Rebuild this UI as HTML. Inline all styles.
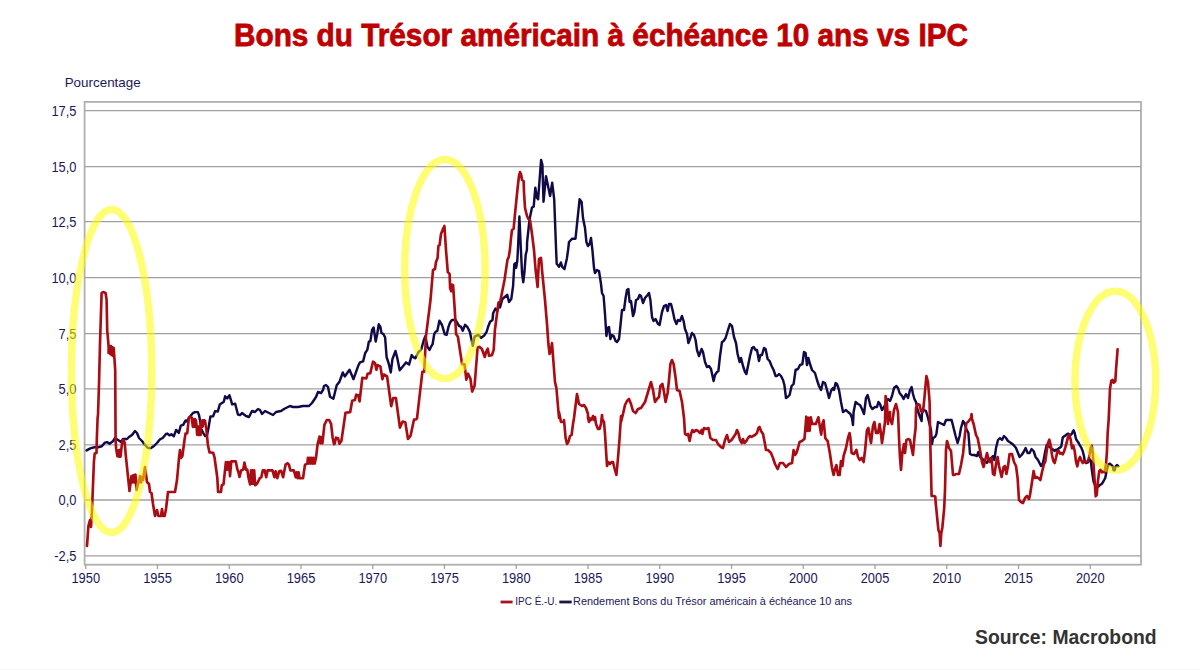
<!DOCTYPE html>
<html><head><meta charset="utf-8"><style>
html,body{margin:0;padding:0;background:#fff;}
body{width:1200px;height:670px;overflow:hidden;position:relative;font-family:"Liberation Sans",sans-serif;}
svg{position:absolute;left:0;top:0;}
</style></head><body>
<svg width="1200" height="670" viewBox="0 0 1200 670">
<rect x="0" y="0" width="1200" height="670" fill="#fff"/>
<text x="601" y="45.8" text-anchor="middle" font-family="Liberation Sans" font-weight="bold" font-size="31.5" fill="#c00000" stroke="#c00000" stroke-width="0.8" textLength="734" lengthAdjust="spacingAndGlyphs">Bons du Trésor américain à échéance 10 ans vs IPC</text>
<text x="64.7" y="87" font-size="13" fill="#1c1858" textLength="76" lengthAdjust="spacingAndGlyphs">Pourcentage</text>
<rect x="84.6" y="101.9" width="1056.4" height="462.8" fill="none" stroke="#b0b0b0" stroke-width="1.8"/>
<g stroke="#a0a0a0" stroke-width="1.3" fill="none"><line x1="84.5" x2="1141" y1="110.6" y2="110.6"/><line x1="84.5" x2="1141" y1="166.6" y2="166.6"/><line x1="84.5" x2="1141" y1="221.7" y2="221.7"/><line x1="84.5" x2="1141" y1="277.7" y2="277.7"/><line x1="84.5" x2="1141" y1="333.7" y2="333.7"/><line x1="84.5" x2="1141" y1="388.8" y2="388.8"/><line x1="84.5" x2="1141" y1="444.9" y2="444.9"/><line x1="84.5" x2="1141" y1="500.0" y2="500.0"/><line x1="84.5" x2="1141" y1="555.9" y2="555.9"/></g>
<g stroke="#a0a0a0" stroke-width="1.3"><line x1="85.75" x2="85.75" y1="564.5" y2="569"/><line x1="157.50" x2="157.50" y1="564.5" y2="569"/><line x1="229.25" x2="229.25" y1="564.5" y2="569"/><line x1="301.00" x2="301.00" y1="564.5" y2="569"/><line x1="372.75" x2="372.75" y1="564.5" y2="569"/><line x1="444.50" x2="444.50" y1="564.5" y2="569"/><line x1="516.25" x2="516.25" y1="564.5" y2="569"/><line x1="588.00" x2="588.00" y1="564.5" y2="569"/><line x1="659.75" x2="659.75" y1="564.5" y2="569"/><line x1="731.50" x2="731.50" y1="564.5" y2="569"/><line x1="803.25" x2="803.25" y1="564.5" y2="569"/><line x1="875.00" x2="875.00" y1="564.5" y2="569"/><line x1="946.75" x2="946.75" y1="564.5" y2="569"/><line x1="1018.50" x2="1018.50" y1="564.5" y2="569"/><line x1="1090.25" x2="1090.25" y1="564.5" y2="569"/></g>
<g font-size="14" fill="#1c1858"><text transform="translate(76.5,115.5) scale(0.92,1)" text-anchor="end">17,5</text><text transform="translate(76.5,171.5) scale(0.92,1)" text-anchor="end">15,0</text><text transform="translate(76.5,226.6) scale(0.92,1)" text-anchor="end">12,5</text><text transform="translate(76.5,282.6) scale(0.92,1)" text-anchor="end">10,0</text><text transform="translate(76.5,338.6) scale(0.92,1)" text-anchor="end">7,5</text><text transform="translate(76.5,393.7) scale(0.92,1)" text-anchor="end">5,0</text><text transform="translate(76.5,449.8) scale(0.92,1)" text-anchor="end">2,5</text><text transform="translate(76.5,504.9) scale(0.92,1)" text-anchor="end">0,0</text><text transform="translate(76.5,560.8) scale(0.92,1)" text-anchor="end">-2,5</text></g>
<g font-size="14" fill="#1c1858"><text transform="translate(85.75,582.8) scale(0.92,1)" text-anchor="middle">1950</text><text transform="translate(157.50,582.8) scale(0.92,1)" text-anchor="middle">1955</text><text transform="translate(229.25,582.8) scale(0.92,1)" text-anchor="middle">1960</text><text transform="translate(301.00,582.8) scale(0.92,1)" text-anchor="middle">1965</text><text transform="translate(372.75,582.8) scale(0.92,1)" text-anchor="middle">1970</text><text transform="translate(444.50,582.8) scale(0.92,1)" text-anchor="middle">1975</text><text transform="translate(516.25,582.8) scale(0.92,1)" text-anchor="middle">1980</text><text transform="translate(588.00,582.8) scale(0.92,1)" text-anchor="middle">1985</text><text transform="translate(659.75,582.8) scale(0.92,1)" text-anchor="middle">1990</text><text transform="translate(731.50,582.8) scale(0.92,1)" text-anchor="middle">1995</text><text transform="translate(803.25,582.8) scale(0.92,1)" text-anchor="middle">2000</text><text transform="translate(875.00,582.8) scale(0.92,1)" text-anchor="middle">2005</text><text transform="translate(946.75,582.8) scale(0.92,1)" text-anchor="middle">2010</text><text transform="translate(1018.50,582.8) scale(0.92,1)" text-anchor="middle">2015</text><text transform="translate(1090.25,582.8) scale(0.92,1)" text-anchor="middle">2020</text></g>
<g fill="none" stroke-width="2.6" stroke-linejoin="round" stroke-linecap="round">
<polyline stroke="#120a48" stroke-width="2.45" points="86.6,450.4 90.3,448.4 94.4,447.3 98.1,447.3 101.8,446.3 104.9,442.6 107.0,442.1 109.6,443.7 113.2,441.0 115.0,438.0 118.0,440.0 121.0,442.0 123.0,439.0 127.0,439.0 129.0,437.0 132.0,435.0 135.0,431.0 137.0,433.0 139.0,438.0 142.0,441.0 145.0,445.0 148.0,448.0 151.0,448.0 154.0,446.0 157.0,443.0 160.0,439.3 162.7,438.0 166.0,434.0 167.4,433.6 169.4,435.3 171.4,434.3 173.8,436.3 176.1,429.9 178.8,432.9 180.8,425.6 183.2,424.9 185.5,420.5 186.5,421.5 189.6,417.2 192.9,413.1 194.9,412.1 197.9,412.1 199.0,415.1 200.3,421.9 201.0,428.6 203.0,432.6 205.0,436.0 207.0,435.3 208.4,428.6 210.4,416.5 213.1,416.2 215.1,411.1 217.8,411.5 219.8,404.4 223.8,401.7 225.1,396.3 227.2,398.4 229.5,395.3 232.2,404.4 235.2,403.7 237.9,414.5 240.0,415.1 242.0,413.0 246.0,416.0 249.0,417.0 252.0,411.0 255.0,412.0 258.0,409.0 260.0,410.0 262.0,414.0 265.0,411.0 269.0,413.0 273.0,415.0 276.0,412.0 281.0,411.0 284.0,409.0 290.0,406.0 293.0,407.0 298.0,407.0 303.0,406.0 309.0,406.0 312.0,403.0 316.0,397.0 318.0,392.0 321.0,393.0 323.0,390.0 324.0,386.0 326.0,385.0 328.0,387.0 330.0,396.7 333.4,398.7 336.7,385.2 339.4,381.9 342.8,372.5 344.8,376.5 349.5,369.8 353.5,379.2 358.2,365.8 360.0,362.4 363.1,361.4 365.2,353.0 367.3,349.9 368.9,341.6 370.4,341.0 372.0,330.1 373.6,327.5 375.7,341.6 377.2,334.2 378.8,324.3 380.4,326.9 381.4,332.7 383.5,334.2 385.1,337.4 386.6,357.2 388.7,363.5 390.8,372.4 392.4,359.3 395.5,351.0 397.1,357.2 399.7,370.3 401.8,367.7 406.0,362.4 409.1,364.5 411.7,355.1 413.3,357.2 415.4,358.3 418.5,352.0 421.1,349.9 423.7,340.5 425.3,336.3 427.4,346.8 429.5,349.9 431.0,346.8 432.6,344.2 434.2,334.2 435.7,331.6 437.3,331.1 439.4,320.7 442.0,325.0 444.8,334.3 446.6,334.9 448.4,327.2 450.1,322.4 451.9,320.0 455.5,320.0 459.1,326.0 460.9,326.6 462.7,330.7 465.1,324.8 467.5,327.2 469.9,331.9 472.8,345.7 474.6,336.7 478.2,334.9 481.2,337.9 484.2,335.5 486.6,331.9 488.4,326.0 490.1,321.8 492.5,320.0 493.1,313.3 495.5,308.5 497.3,310.9 499.7,303.7 500.0,307.3 502.4,299.0 507.2,294.8 509.0,301.9 511.3,299.0 513.1,285.8 514.3,264.3 515.5,263.1 516.1,267.9 517.3,260.7 517.9,250.0 519.4,216.5 520.9,250.0 522.1,273.9 523.3,282.2 524.5,271.5 525.7,254.8 526.9,250.0 527.1,242.0 529.6,219.0 532.0,207.5 533.7,206.7 535.3,187.8 536.9,197.6 538.1,199.3 541.1,159.9 542.4,164.8 543.5,201.7 546.0,176.3 548.4,187.8 550.1,196.0 552.2,182.8 554.2,199.3 556.1,250.0 556.7,263.7 559.1,266.7 560.9,262.5 562.1,266.7 564.5,269.1 566.9,258.4 568.1,250.0 569.0,242.0 572.2,238.7 575.5,238.7 579.6,199.3 581.6,202.0 583.0,218.0 585.0,228.0 586.4,242.0 588.0,246.0 589.6,244.0 591.0,238.0 592.4,250.0 594.0,268.0 595.0,273.0 597.0,270.0 599.0,271.0 601.0,284.0 602.0,293.0 603.6,296.0 605.0,314.0 606.4,336.0 607.6,328.0 609.0,327.0 610.4,339.0 612.0,335.0 613.6,336.0 615.6,341.0 617.0,342.0 619.0,339.0 620.4,326.0 622.0,310.0 624.0,310.0 625.6,298.0 627.0,290.0 628.4,289.0 629.6,302.0 631.0,301.0 633.0,316.0 634.4,312.0 636.0,300.0 638.0,299.0 639.6,295.0 641.0,296.0 643.0,303.0 645.0,298.0 647.6,295.0 649.0,293.0 650.4,300.0 652.0,317.0 653.6,321.0 655.6,319.0 658.0,324.0 659.6,325.0 662.0,312.0 664.0,306.0 666.0,305.0 667.6,311.0 669.0,304.0 671.0,304.0 673.0,312.0 674.4,319.0 676.4,324.0 678.0,320.0 680.0,321.0 682.0,316.0 683.6,321.0 685.0,329.0 687.0,334.0 688.4,343.0 690.0,339.0 692.0,333.0 694.0,335.0 695.6,340.0 697.0,350.0 699.0,356.0 701.6,349.0 703.0,352.0 705.0,362.0 707.0,367.0 709.0,366.0 711.0,369.0 713.6,381.0 715.0,375.0 717.0,372.0 718.4,371.0 720.0,356.0 722.0,342.0 723.6,341.0 725.6,338.0 728.0,330.0 730.0,324.0 732.0,326.0 734.0,337.0 736.0,343.0 737.6,354.0 739.6,362.0 741.0,358.0 743.0,366.0 745.0,372.0 746.4,374.0 748.0,366.0 750.0,356.0 752.0,348.0 753.6,347.0 755.6,350.0 757.0,350.0 759.0,361.0 760.4,355.0 762.0,355.0 764.0,348.0 765.6,349.0 767.6,359.0 769.6,361.0 771.6,366.0 773.6,370.0 775.6,376.0 777.0,376.0 779.0,374.0 781.0,376.0 783.0,380.0 784.4,385.0 786.0,398.0 787.6,397.0 789.6,395.0 791.6,386.0 793.6,384.0 795.6,370.0 798.0,369.0 800.0,365.0 802.4,364.0 804.0,352.0 804.0,352.0 805.6,353.0 807.0,365.0 808.4,358.0 810.0,364.0 812.0,370.0 815.0,373.0 817.0,380.0 819.0,386.0 821.0,390.0 823.0,382.0 825.0,383.0 827.0,390.0 829.0,398.0 831.0,391.0 833.0,388.0 834.0,390.0 835.6,383.0 837.0,384.0 839.0,390.0 841.0,402.0 843.0,412.0 846.0,410.0 848.0,412.0 850.4,414.0 852.0,418.0 853.0,425.0 853.6,412.0 855.6,402.0 858.0,404.0 860.0,405.0 862.0,409.0 864.0,414.0 866.0,398.0 867.6,395.0 869.0,400.0 870.4,406.0 872.4,409.0 875.0,407.0 877.0,407.0 878.4,402.0 880.0,404.0 882.0,410.0 884.0,407.0 886.0,403.0 888.0,399.0 890.0,401.0 892.0,396.0 894.0,388.0 896.4,386.0 898.0,388.0 899.6,393.0 902.0,396.0 903.6,399.0 905.0,396.0 906.0,394.0 908.0,398.0 910.0,390.0 911.6,387.0 913.0,394.0 914.4,399.0 916.0,402.0 917.6,410.0 919.6,416.0 921.6,421.0 922.0,412.0 924.0,410.0 926.0,411.0 928.0,418.0 931.0,430.0 932.0,444.0 933.0,438.0 935.0,437.0 936.4,434.0 938.0,422.0 942.0,424.0 944.0,425.0 946.0,420.0 951.6,420.0 953.6,428.0 955.6,436.0 957.6,443.0 959.6,436.0 961.0,428.0 963.0,421.0 964.4,423.0 966.4,429.0 968.4,433.0 970.0,454.0 972.0,455.0 974.4,455.0 977.0,456.0 978.4,452.0 980.0,457.0 982.4,459.0 985.0,461.0 987.0,463.0 989.0,459.0 991.0,458.0 993.0,456.0 994.4,460.0 996.0,448.0 998.0,440.0 1000.0,438.0 1002.0,440.0 1004.0,436.0 1006.0,438.0 1008.0,441.0 1011.0,443.0 1013.6,445.0 1016.0,448.0 1018.0,453.0 1019.6,457.0 1021.6,455.0 1023.6,452.0 1025.6,448.0 1027.6,453.0 1029.6,453.0 1031.6,449.0 1033.6,451.0 1035.6,457.0 1038.0,460.0 1041.0,466.0 1043.0,463.0 1044.0,458.0 1045.3,451.0 1046.7,445.0 1048.0,445.7 1049.3,447.0 1050.7,447.7 1052.0,449.0 1053.3,449.7 1054.7,451.0 1056.0,449.7 1057.3,449.7 1058.7,448.3 1060.0,447.7 1061.3,446.3 1062.7,437.7 1064.0,436.3 1065.3,435.7 1066.7,434.3 1068.0,433.7 1069.3,434.3 1070.7,435.0 1072.0,433.7 1072.7,431.7 1073.6,430.3 1074.7,433.0 1076.0,439.0 1077.3,441.0 1078.7,443.0 1080.0,445.7 1081.3,447.7 1082.7,451.0 1084.0,456.3 1084.7,461.0 1086.0,463.0 1088.0,462.3 1089.3,459.0 1090.7,460.3 1092.0,471.0 1093.6,481.7 1095.3,485.7 1097.3,487.0 1098.7,486.3 1100.0,485.0 1102.0,483.7 1104.0,480.3 1105.3,477.7 1106.4,472.3 1107.3,468.3 1108.7,464.3 1110.0,463.7 1111.3,465.0 1112.7,466.3 1113.6,470.3 1114.7,470.3 1115.7,466.3 1117.1,465.0 1118.4,466.3"/>
<polyline stroke="#aa0c14" stroke-width="2.65" points="87.0,546.0 88.4,526.0 90.0,520.0 91.0,527.0 92.0,510.0 93.4,475.0 93.9,461.9 94.7,453.6 96.5,453.0 96.8,440.0 97.6,418.0 98.0,415.0 99.0,384.0 100.0,344.0 101.6,293.0 103.0,292.0 105.6,293.0 106.6,300.0 107.2,330.0 108.6,346.0 108.6,353.0 109.5,346.0 110.2,354.0 110.8,346.0 111.5,355.0 112.2,347.0 112.9,356.0 113.7,348.0 115.2,370.0 115.6,440.0 116.1,448.4 117.4,456.2 118.5,450.4 119.0,456.7 120.0,449.9 120.6,456.7 121.3,449.4 122.1,443.1 122.9,440.0 123.7,440.0 124.7,443.1 125.8,455.7 129.5,491.0 131.5,476.0 132.5,482.5 133.5,475.0 134.5,482.5 135.5,474.5 136.5,490.0 140.0,476.0 141.0,482.5 142.0,477.0 143.0,480.0 145.0,467.0 147.0,482.0 149.0,484.0 150.0,492.0 151.5,493.0 153.0,504.0 155.0,516.0 157.0,510.0 158.4,516.0 161.0,516.0 162.0,509.0 163.0,516.0 164.6,516.0 166.0,509.0 168.0,492.0 175.0,492.0 177.0,480.0 179.0,458.0 180.0,450.0 181.0,458.0 182.4,456.0 184.5,440.0 185.5,433.6 187.2,433.3 188.9,417.8 189.9,416.8 191.6,417.2 192.6,424.6 192.9,426.9 193.4,419.8 193.8,426.6 194.3,419.2 194.7,426.6 195.3,419.2 195.9,420.5 196.6,425.9 197.1,434.6 197.9,426.6 198.4,435.0 199.0,426.6 199.6,435.0 200.2,426.6 200.6,435.0 201.0,421.2 201.6,426.6 202.2,420.5 202.7,426.6 203.3,420.2 204.0,420.2 205.0,420.9 206.3,428.6 207.9,445.0 209.5,452.4 213.2,452.8 214.5,457.3 217.3,477.8 218.1,491.8 221.0,491.8 221.8,485.2 223.5,484.4 225.9,462.2 226.8,469.6 227.6,462.2 228.4,469.6 229.2,462.2 230.0,476.2 231.3,461.4 235.8,461.4 237.4,469.6 238.4,472.1 239.5,477.0 241.1,470.4 243.2,469.6 244.4,462.6 246.0,469.6 247.3,469.6 248.5,477.8 250.1,484.4 251.0,470.4 251.8,483.6 252.6,470.4 253.4,483.6 254.2,470.4 255.1,485.2 256.9,484.0 259.8,478.2 261.3,477.2 262.8,470.4 264.7,470.4 266.2,477.2 267.6,470.4 272.5,470.4 274.4,477.2 275.6,471.4 277.3,478.2 279.2,471.4 281.2,470.9 283.1,477.2 285.6,464.6 287.5,463.2 288.9,464.6 290.4,470.4 293.8,470.4 295.7,477.2 296.7,472.4 297.7,478.2 298.6,472.4 299.6,478.2 303.0,478.2 305.0,464.6 307.4,463.6 307.9,457.8 308.8,463.6 309.8,457.8 310.8,463.6 311.7,457.8 312.7,463.6 313.7,457.8 314.7,463.6 316.1,456.9 317.6,444.2 319.5,436.5 320.5,443.3 321.0,437.0 322.4,443.3 324.4,424.8 326.8,420.0 329.2,420.0 331.1,423.9 332.6,437.5 334.0,444.2 334.7,443.7 336.0,437.7 338.1,438.3 339.4,443.7 341.4,441.0 345.5,412.8 350.2,412.1 352.2,400.7 354.9,400.0 356.2,394.7 358.2,395.3 359.6,401.4 362.3,377.8 366.3,378.5 367.6,373.8 370.3,373.1 373.0,361.7 375.0,363.1 376.4,369.8 377.7,365.1 380.4,366.4 382.4,379.2 383.8,374.5 387.1,376.5 391.2,406.1 393.2,398.0 395.9,398.0 399.9,427.6 402.6,421.5 405.3,422.2 408.0,439.0 410.6,435.6 414.0,419.5 416.0,419.5 417.0,418.3 422.4,371.7 424.2,371.7 426.0,335.8 430.5,300.0 433.0,270.0 435.0,269.0 436.0,262.0 437.6,258.0 438.4,246.0 439.6,245.0 441.0,234.0 443.0,229.0 444.4,226.0 446.0,250.0 447.8,272.1 449.6,273.9 450.1,288.2 451.3,291.2 451.9,284.6 453.1,285.2 454.9,312.1 456.1,334.3 457.9,336.7 462.1,364.2 464.5,364.2 466.3,379.7 468.1,373.7 470.4,378.5 472.2,391.6 474.6,385.7 477.6,347.5 479.4,346.9 481.8,348.7 484.8,357.0 486.0,352.2 487.8,348.7 489.0,355.8 491.9,355.2 493.7,349.9 494.9,330.0 498.5,302.5 500.3,301.3 504.5,279.9 507.5,259.6 508.7,257.2 509.9,250.0 511.0,238.0 512.0,230.0 513.6,229.0 515.0,214.0 516.4,200.0 517.6,188.0 519.0,176.0 520.0,172.0 521.0,174.0 522.0,180.0 523.6,181.0 524.0,192.0 525.0,208.0 527.0,216.0 528.4,219.0 530.0,220.0 532.0,234.0 534.0,250.0 535.6,270.0 537.6,287.0 539.0,259.0 541.0,258.0 542.4,274.0 545.0,300.0 547.0,324.0 548.4,344.0 549.6,354.0 551.0,350.0 552.0,343.0 553.6,364.0 555.0,382.0 556.4,388.0 559.0,418.0 559.0,412.0 561.0,422.0 564.0,422.0 564.0,420.0 565.6,438.0 567.0,444.0 568.4,442.0 570.0,436.0 571.6,435.0 573.0,424.0 574.0,418.0 577.0,394.0 579.0,404.0 582.0,406.0 584.0,405.0 586.0,408.0 588.0,414.0 588.0,418.0 589.0,422.0 589.6,418.0 591.0,420.0 592.0,419.0 593.0,416.0 594.0,420.0 595.0,417.0 596.0,424.0 598.0,429.0 599.6,429.0 601.0,424.0 602.0,415.0 602.4,419.0 604.0,422.0 605.0,434.0 606.0,450.0 607.0,466.0 608.4,462.0 610.0,464.0 611.6,462.0 613.0,462.0 614.4,468.0 616.4,475.0 618.0,458.0 619.6,438.0 621.0,416.0 621.0,422.0 622.0,418.0 623.0,414.0 625.0,405.0 627.0,401.0 629.0,399.0 631.0,404.0 633.0,411.0 635.6,413.0 638.0,409.0 641.0,408.0 643.0,405.0 645.0,402.0 648.0,392.0 651.0,382.0 653.0,390.0 655.0,402.0 657.0,399.0 659.0,397.0 660.4,386.0 662.4,384.0 664.0,392.0 665.6,402.0 667.6,393.0 669.0,380.0 670.4,364.0 672.0,360.0 673.6,364.0 675.6,378.0 677.0,390.0 679.6,391.0 682.0,402.0 684.0,418.0 685.0,434.0 686.4,435.0 688.0,434.0 689.6,441.0 691.0,434.0 692.4,430.0 694.0,432.0 696.0,430.0 698.0,431.0 700.0,433.0 701.6,430.0 702.4,434.0 704.0,428.0 706.0,429.0 708.4,428.0 710.4,438.0 713.0,440.0 716.0,440.0 718.0,444.0 721.0,447.0 723.0,448.0 725.0,440.0 727.0,435.0 729.0,442.0 731.6,440.0 733.6,437.0 735.6,434.0 737.0,430.0 738.4,433.0 740.0,440.0 741.6,443.0 743.0,439.0 744.4,443.0 746.4,441.0 748.0,438.0 750.0,436.0 751.6,437.0 753.0,436.0 755.0,435.0 757.0,433.0 758.4,428.0 759.6,427.0 761.0,431.0 763.0,434.0 765.0,444.0 766.0,450.0 768.0,450.0 771.0,453.0 773.0,458.0 775.0,464.0 777.6,469.0 780.0,463.0 783.0,463.0 786.0,467.0 789.0,464.0 792.0,463.0 793.6,450.0 795.0,455.0 796.4,453.0 798.0,448.0 799.6,442.0 802.0,441.0 804.5,438.8 806.3,416.7 807.4,431.0 808.6,417.9 809.6,431.0 810.8,417.3 812.2,423.9 815.8,423.9 818.4,417.3 819.4,423.9 821.2,434.6 822.4,423.9 823.6,420.3 825.3,438.2 827.7,441.2 830.0,454.0 832.0,468.0 833.6,475.0 835.0,469.0 836.4,465.0 838.0,475.0 839.6,475.0 841.0,461.0 842.4,466.0 843.6,456.0 846.0,448.0 848.0,438.0 849.6,433.0 850.4,438.0 851.6,453.0 854.0,454.0 856.4,450.0 858.0,457.0 859.6,460.0 861.6,458.0 863.6,462.0 865.0,451.0 867.0,430.0 868.4,428.0 870.0,438.0 871.0,443.0 873.0,426.0 874.4,422.0 876.0,433.0 878.0,433.0 879.6,424.0 881.0,434.0 882.0,443.0 883.6,432.0 885.0,422.0 885.6,396.0 887.0,404.0 888.0,424.0 888.4,414.0 890.0,412.0 890.0,419.0 892.0,424.0 894.0,410.0 896.0,404.0 898.0,412.0 899.0,438.0 900.0,458.0 901.0,470.0 902.4,452.0 904.0,444.0 905.0,453.0 906.4,440.0 908.0,439.0 910.0,440.0 912.0,450.0 913.0,455.0 914.4,438.0 915.6,428.0 916.0,408.0 917.6,404.0 919.6,405.0 921.0,411.0 923.0,412.0 924.4,398.0 926.4,376.0 928.0,382.0 929.6,402.0 930.4,448.0 931.6,496.0 933.5,496.0 935.3,496.5 935.6,502.0 938.4,530.0 939.6,533.0 940.4,546.0 941.3,533.0 942.3,528.0 944.2,508.0 945.0,490.0 946.0,450.0 947.0,441.0 948.0,444.0 949.0,448.0 951.0,451.0 953.0,475.0 954.4,475.0 956.0,474.0 959.0,474.0 961.0,465.0 963.0,454.0 965.0,434.0 966.4,423.0 968.0,422.0 971.0,418.0 971.6,414.0 972.0,419.0 973.6,424.0 976.0,435.0 977.6,438.0 980.0,450.0 982.0,462.0 983.6,467.0 985.0,461.0 987.0,453.0 988.4,459.0 990.0,462.0 991.6,458.0 993.0,474.0 994.4,475.0 996.0,464.0 997.6,457.0 999.0,466.0 1001.6,477.0 1003.6,467.0 1005.0,466.0 1006.4,474.0 1008.0,466.0 1009.6,454.0 1012.0,454.0 1014.0,462.0 1016.0,466.0 1017.6,478.0 1019.0,500.0 1021.0,502.0 1023.0,503.0 1025.0,498.0 1027.0,496.0 1029.0,499.0 1030.0,495.0 1032.0,482.0 1033.6,471.0 1035.0,478.0 1036.4,477.0 1038.4,478.0 1040.4,480.0 1042.0,472.0 1044.0,464.0 1045.3,461.7 1046.7,451.0 1048.0,443.0 1049.3,439.7 1050.7,445.0 1052.0,455.0 1053.3,461.0 1054.7,463.0 1056.0,457.7 1057.3,451.7 1058.7,451.0 1060.0,453.7 1061.3,453.0 1062.7,454.3 1064.0,451.7 1065.3,447.7 1066.7,442.3 1068.0,437.0 1069.3,435.0 1070.7,439.7 1072.0,448.3 1073.3,445.7 1074.7,451.0 1076.0,461.7 1077.3,466.3 1078.7,459.7 1080.0,457.0 1081.3,460.3 1082.7,463.0 1084.0,461.0 1085.3,462.3 1086.7,461.7 1088.0,461.0 1089.3,456.3 1090.7,447.7 1091.7,445.7 1092.7,452.3 1093.6,465.7 1094.7,481.7 1095.7,496.3 1096.7,495.0 1098.0,480.3 1099.3,471.0 1100.7,469.7 1102.0,472.3 1103.3,471.7 1104.7,472.3 1106.0,464.3 1106.9,452.3 1107.7,432.3 1108.7,419.0 1110.0,388.7 1111.3,380.7 1112.7,380.0 1113.6,382.7 1115.3,381.3 1116.0,370.0 1117.6,349.3"/>
</g>
<g fill="none" stroke="rgba(255,252,0,0.55)" stroke-width="7.4">
<ellipse cx="111.6" cy="371" rx="40.1" ry="161.5"/>
<ellipse cx="444.9" cy="269" rx="40.2" ry="109.6"/>
<ellipse cx="1115.3" cy="380.6" rx="40.3" ry="89.5"/>
</g>
<line x1="500.6" x2="512.6" y1="602" y2="602" stroke="#a8141c" stroke-width="2.8"/>
<text x="515.3" y="604.7" font-size="11" fill="#1c1858" textLength="42" lengthAdjust="spacingAndGlyphs">IPC É.-U.</text>
<line x1="559.3" x2="571.7" y1="602" y2="602" stroke="#16164a" stroke-width="2.8"/>
<text x="573" y="604.7" font-size="11" fill="#1c1858" textLength="279" lengthAdjust="spacingAndGlyphs">Rendement Bons du Trésor américain à échéance 10 ans</text>
<rect x="0" y="669" width="1200" height="1" fill="#f3f3f3"/>
<text x="975" y="644.4" font-size="19.5" font-weight="bold" fill="#333" textLength="181.6" lengthAdjust="spacingAndGlyphs">Source: Macrobond</text>
</svg>
</body></html>
